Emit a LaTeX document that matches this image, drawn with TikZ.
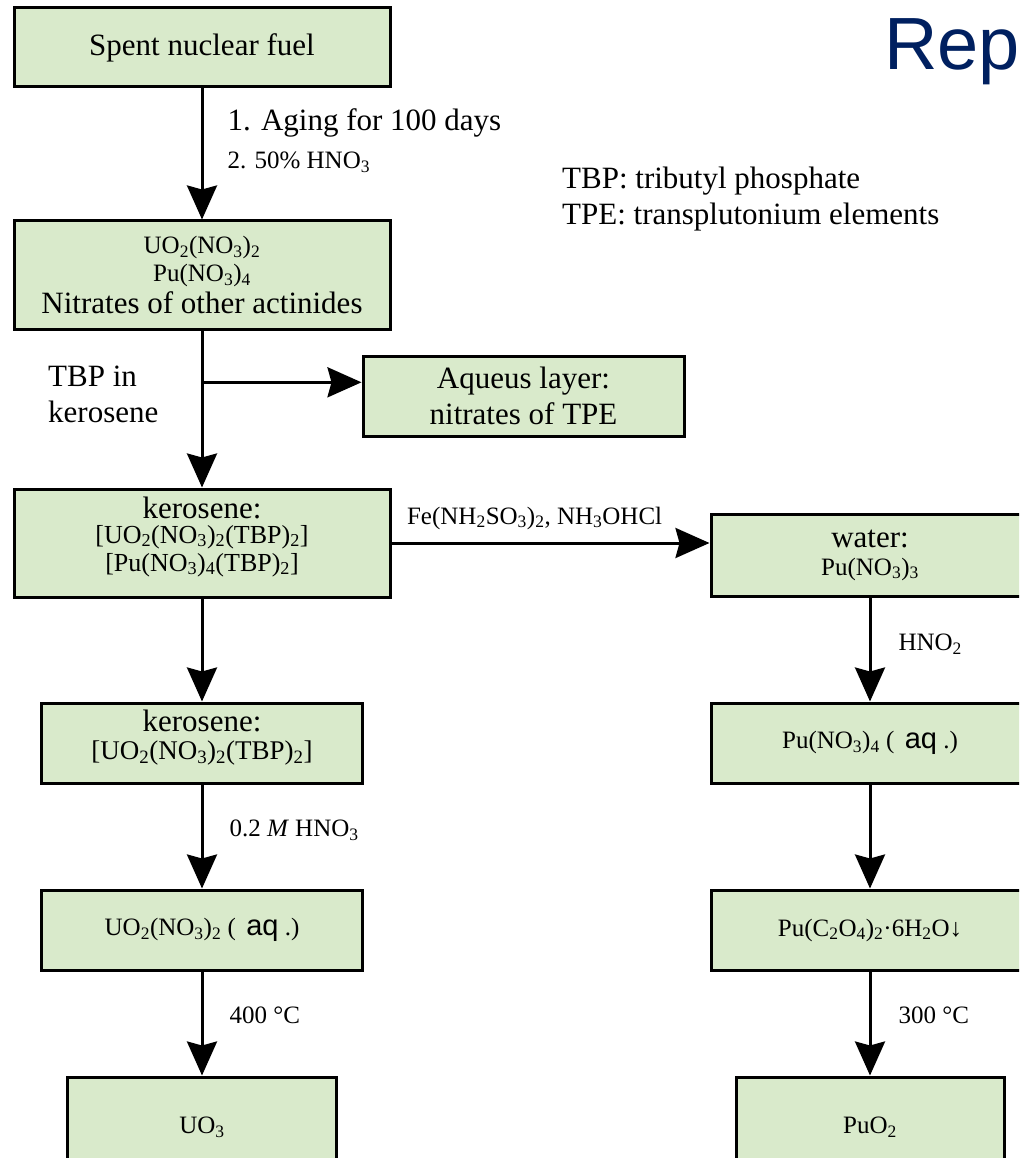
\documentclass[tikz,border=0pt]{standalone}
\usepackage{fontspec}
\setmainfont{Liberation Serif}
\newfontfamily\arialfont{Liberation Sans}
\usetikzlibrary{arrows.meta,positioning,calc}
\definecolor{boxgreen}{RGB}{217,234,203}
\definecolor{titleblue}{RGB}{0,32,96}
\newcommand{\chsub}[1]{\textsubscript{#1}}
\newcommand{\bigfont}{\fontsize{31}{36}\selectfont}
\newcommand{\chemfont}{\fontsize{25}{28}\selectfont}
\newcommand{\aqtext}{{\arialfont\fontsize{29}{30}\selectfont aq}}
\tikzset{
    box/.style={draw=black, line width=3pt, fill=boxgreen, align=center, inner sep=0pt, font=\chemfont},
    flow/.style={line width=3pt, -{Stealth[length=34pt,width=30pt,inset=4pt]}},
    lbl/.style={inner sep=0pt, align=left, font=\chemfont},
}

\begin{document}
\begin{tikzpicture}[x=1pt,y=-1pt]
    \useasboundingbox (0,0) rectangle (1019,1158);
    \clip (0,0) rectangle (1019,1158);

    \node[anchor=base west, inner sep=0pt, text=titleblue, font=\arialfont\fontsize{74}{80}\selectfont] (title) at (884,70) {Rep};

    \node[box, minimum width=376pt, minimum height=79pt] (fuel) at (202,47.5) {\bigfont Spent nuclear fuel};
    \node[box, minimum width=376pt, minimum height=108pt] (nitr) at (202,275)
        {UO\chsub{2}(NO\chsub{3})\chsub{2}\\Pu(NO\chsub{3})\chsub{4}\\[4pt]{\bigfont Nitrates of other actinides}};
    \node[box, minimum width=321pt, minimum height=80pt, font=\bigfont] (aqueous) at (523.5,396) {Aqueus layer:\\nitrates of TPE};
    \node[box, minimum width=376pt, minimum height=108pt] (kero) at (202,543)
        {{\bigfont kerosene:}\\[-3pt]{\fontsize{26}{24}\selectfont [UO\chsub{2}(NO\chsub{3})\chsub{2}(TBP)\chsub{2}]}\\[0pt]{\fontsize{26}{24}\selectfont [Pu(NO\chsub{3})\chsub{4}(TBP)\chsub{2}]}\\[-10pt]\mbox{}};
    \node[box, minimum width=321pt, minimum height=80pt] (keroU) at (202,743)
        {{\bigfont kerosene:}\\{\fontsize{27}{24}\selectfont [UO\chsub{2}(NO\chsub{3})\chsub{2}(TBP)\chsub{2}]}\\[-12pt]\mbox{}};
    \node[box, minimum width=321pt, minimum height=80pt] (uaq) at (202,930) {UO\chsub{2}(NO\chsub{3})\chsub{2} (~\,\aqtext{} .)};
    \node[box, minimum width=269pt, minimum height=100pt] (uox) at (202,1127) {UO\chsub{3}};

    \node[box, minimum width=318pt, minimum height=82pt] (water) at (870,555) {{\bigfont water:}\\Pu(NO\chsub{3})\chsub{3}};
    \node[box, minimum width=318pt, minimum height=80pt] (puaq) at (870,743) {Pu(NO\chsub{3})\chsub{4} (~\,\aqtext{} .)};
    \node[box, minimum width=318pt, minimum height=80pt] (pox) at (870,930) {Pu(C\chsub{2}O\chsub{4})\chsub{2}·6H\chsub{2}O↓};
    \node[box, minimum width=268pt, minimum height=100pt] (puox) at (870,1127) {PuO\chsub{2}};

    \node[lbl, anchor=west, font=\bigfont] (solvent) at (48,394.5) {TBP in\\kerosene};
    \node[lbl, anchor=west, font=\bigfont] (legend) at (562,199) {TBP: tributyl phosphate\\TPE: transplutonium elements};

    \draw[flow] (fuel) -- node[lbl, right=24pt, pos=0.4] {{\bigfont 1. Aging for 100 days}\\[10pt]2. 50\% HNO\chsub{3}} (nitr);
    \draw[flow] (nitr) -- (kero);
    \coordinate (split) at ($(nitr.south)!0.33!(kero.north)$);
    \draw[flow] (split) -- (split -| aqueous.west);
    \draw[flow] (kero.east) -- node[lbl, above=12pt, pos=0.45] {Fe(NH\chsub{2}SO\chsub{3})\chsub{2}, NH\chsub{3}OHCl} (kero.east -| water.west);
    \draw[flow] (kero) -- (keroU);
    \draw[flow] (keroU) -- node[lbl, right=26pt, pos=0.44] {0.2 \textit{M} HNO\chsub{3}} (uaq);
    \draw[flow] (uaq) -- node[lbl, right=26pt, pos=0.42] {400 °C} (uox);
    \draw[flow] (water) -- node[lbl, right=27pt, pos=0.45] {HNO\chsub{2}} (puaq);
    \draw[flow] (puaq) -- (pox);
    \draw[flow] (pox) -- node[lbl, right=27pt, pos=0.42] {300 °C} (puox);
\end{tikzpicture}
\end{document}
